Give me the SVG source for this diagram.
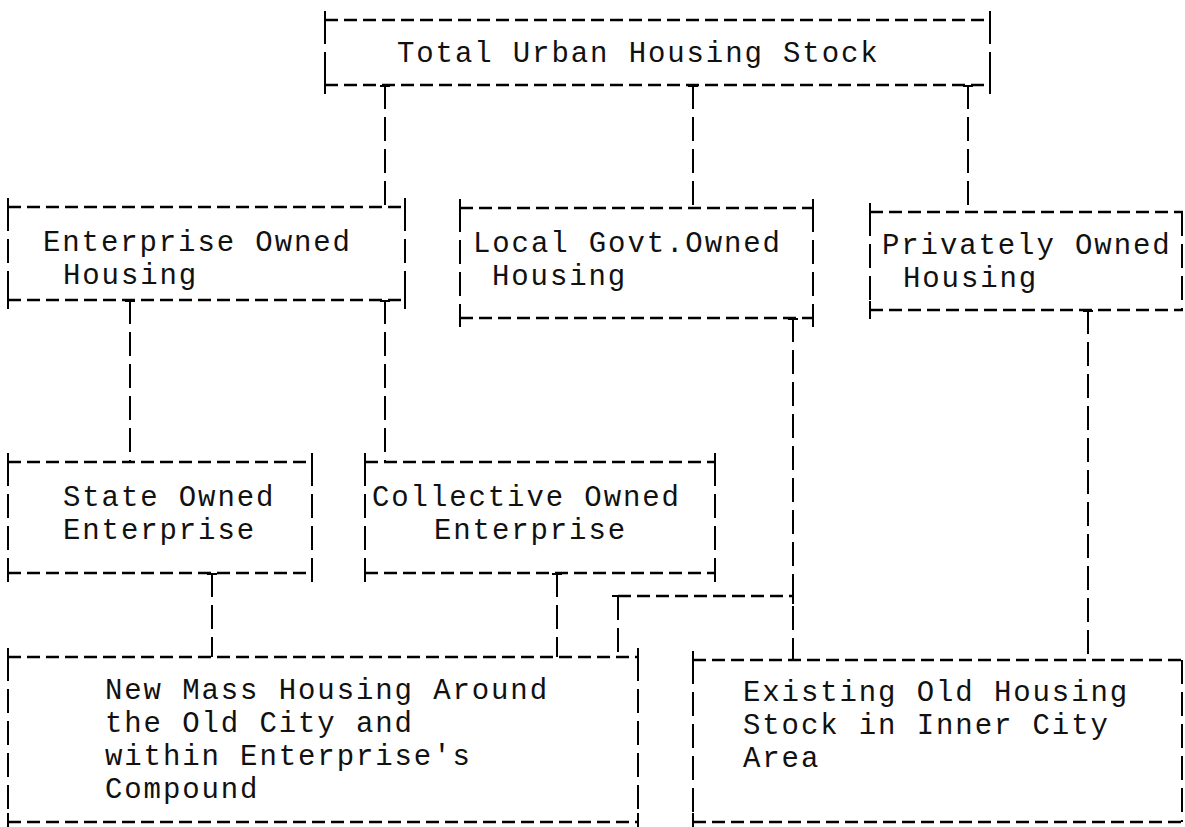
<svg xmlns="http://www.w3.org/2000/svg" width="1185" height="827" viewBox="0 0 1185 827">
  <style>
    .h { stroke:#000; stroke-width:2.4; stroke-dasharray:13 6; fill:none; }
    .v { stroke:#000; stroke-width:2; stroke-dasharray:24 8; fill:none; }
    .tick { stroke:#000; stroke-width:2; fill:none; }
    .t { font-family:"Liberation Mono","Courier New",monospace; font-size:29px; letter-spacing:1.9px; fill:#111; }
  </style>
  <rect width="1185" height="827" fill="#fff"/>

  <!-- connectors -->
  <g id="connectors">
    <path class="v" d="M385 85 V207"/>
    <path class="v" d="M693 85 V208"/>
    <path class="v" d="M968 85 V212"/>
    <path class="v" d="M130 300 V462"/>
    <path class="v" d="M385 300 V462"/>
    <path class="v" d="M793 318 V660"/>
    <path class="v" d="M1088 310 V660"/>
    <path class="v" d="M212 573 V657"/>
    <path class="v" d="M557 573 V657"/>
    <path class="h" d="M618 596 H793"/>
    <path class="v" d="M618 596 V657"/>
    <!-- small caps where a connector leaves or meets a line -->
    <path class="tick" d="M612 596 H624 M793 588 V604
      M380 86 H390 M688 86 H698 M963 86 H973
      M125 301 H135 M380 301 H390 M788 319 H798 M1083 311 H1093
      M207 574 H217 M552 574 H562"/>
  </g>

  <!-- Total Urban Housing Stock -->
  <g id="node-total">
    <path class="h" d="M325 20 H990 M325 85 H990"/>
    <path class="v" d="M325 20 V85 M990 20 V85"/>
    <path class="tick" d="M325 11 V29 M990 11 V29 M325 76 V94 M990 76 V94"/>
    <text class="t" x="397" y="62">Total Urban Housing Stock</text>
  </g>

  <!-- Enterprise Owned Housing -->
  <g id="node-enterprise">
    <path class="h" d="M8 207 H405 M8 300 H405"/>
    <path class="v" d="M8 207 V300 M405 207 V300"/>
    <path class="tick" d="M8 198 V216 M405 198 V216 M8 291 V309 M405 291 V309"/>
    <text class="t" x="43" y="251">Enterprise Owned</text>
    <text class="t" x="63" y="284">Housing</text>
  </g>

  <!-- Local Govt. Owned Housing -->
  <g id="node-local">
    <path class="h" d="M460 208 H813 M460 318 H813"/>
    <path class="v" d="M460 208 V318 M813 208 V318"/>
    <path class="tick" d="M460 199 V217 M813 199 V217 M460 309 V327 M813 309 V327"/>
    <text class="t" x="473" y="252">Local Govt.Owned</text>
    <text class="t" x="492" y="285">Housing</text>
  </g>

  <!-- Privately Owned Housing -->
  <g id="node-private">
    <path class="h" d="M870 212 H1183 M870 310 H1183"/>
    <path class="v" d="M870 212 V310 M1182 212 V310"/>
    <path class="tick" d="M870 203 V221 M870 301 V319"/>
    <text class="t" x="882" y="254">Privately Owned</text>
    <text class="t" x="903" y="287">Housing</text>
  </g>

  <!-- State Owned Enterprise -->
  <g id="node-state">
    <path class="h" d="M8 462 H312 M8 573 H312"/>
    <path class="v" d="M8 462 V573 M312 462 V573"/>
    <path class="tick" d="M8 453 V471 M312 453 V471 M8 564 V582 M312 564 V582"/>
    <text class="t" x="63" y="506">State Owned</text>
    <text class="t" x="63" y="539">Enterprise</text>
  </g>

  <!-- Collective Owned Enterprise -->
  <g id="node-collective">
    <path class="h" d="M365 462 H715 M365 573 H715"/>
    <path class="v" d="M365 462 V573 M715 462 V573"/>
    <path class="tick" d="M365 453 V471 M715 453 V471 M365 564 V582 M715 564 V582"/>
    <text class="t" x="372" y="506">Collective Owned</text>
    <text class="t" x="434" y="539">Enterprise</text>
  </g>

  <!-- New Mass Housing -->
  <g id="node-newmass">
    <path class="h" d="M8 657 H638 M8 822 H638"/>
    <path class="v" d="M8 657 V822 M638 657 V822"/>
    <path class="tick" d="M8 648 V666 M638 648 V666 M8 813 V827 M638 813 V827"/>
    <text class="t" x="105" y="699">New Mass Housing Around</text>
    <text class="t" x="105" y="732">the Old City and</text>
    <text class="t" x="105" y="765">within Enterprise's</text>
    <text class="t" x="105" y="798">Compound</text>
  </g>

  <!-- Existing Old Housing Stock -->
  <g id="node-existing">
    <path class="h" d="M693 660 H1183 M693 822 H1183"/>
    <path class="v" d="M693 660 V822 M1182 660 V822"/>
    <path class="tick" d="M693 651 V669 M693 813 V827"/>
    <text class="t" x="743" y="701">Existing Old Housing</text>
    <text class="t" x="743" y="734">Stock in Inner City</text>
    <text class="t" x="743" y="767">Area</text>
  </g>
</svg>
